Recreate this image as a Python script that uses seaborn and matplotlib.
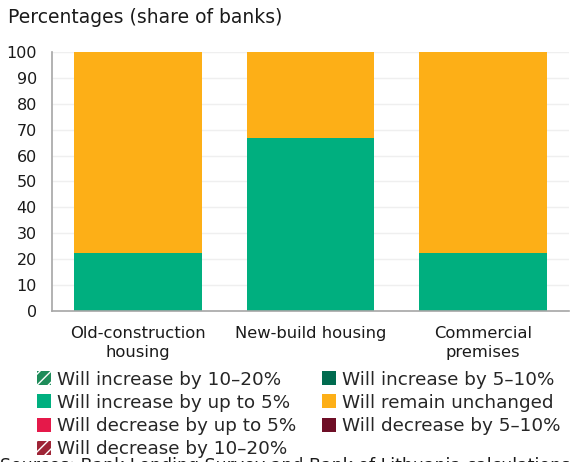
import matplotlib
matplotlib.use("Agg")
import matplotlib.pyplot as plt
from matplotlib.patches import Patch
import seaborn as sns
import numpy as np

categories = ["Old-construction\nhousing", "New-build housing", "Commercial\npremises"]

series_names = [
    "Will increase by 10–20%",
    "Will increase by 5–10%",
    "Will increase by up to 5%",
    "Will remain unchanged",
    "Will decrease by up to 5%",
    "Will decrease by 5–10%",
    "Will decrease by 10–20%",
]
inc_10_20 = [0.0, 0.0, 0.0]
inc_5_10 = [0.0, 0.0, 0.0]
inc_up_5 = [22.2, 66.7, 22.2]
unchanged = [77.8, 33.3, 77.8]
dec_up_5 = [0.0, 0.0, 0.0]
dec_5_10 = [0.0, 0.0, 0.0]
dec_10_20 = [0.0, 0.0, 0.0]
series_values = [inc_10_20, inc_5_10, inc_up_5, unchanged, dec_up_5, dec_5_10, dec_10_20]

colors = ["#1E8C5A", "#006B4F", "#00AF7F", "#FDAF17", "#E5194A", "#6E0E26", "#9E2436"]
hatches = ["///", None, None, None, None, None, "///"]

sns.set_theme(style="white")
plt.rcParams["font.family"] = ["DejaVu Sans"]

fig = plt.figure(figsize=(5.73, 4.62), dpi=100)
ax = fig.add_axes([0.0908, 0.327, 0.902, 0.5606])

bottom = np.zeros(len(categories))
for name, vals, col in zip(series_names, series_values, colors):
    sns.barplot(x=categories, y=vals, bottom=bottom, color=col, width=0.742,
                ax=ax, linewidth=0, saturation=1)
    bottom = bottom + np.array(vals)

ax.set_xlim(-0.5, 2.5)
ax.set_ylim(0, 100)
ax.set_yticks(range(0, 101, 10))
ax.yaxis.grid(True, color="#EFEFEF", linewidth=1)
ax.set_axisbelow(True)
for s in ["top", "right"]:
    ax.spines[s].set_visible(False)
for s in ["left", "bottom"]:
    ax.spines[s].set_color("#A6A6A6")
    ax.spines[s].set_linewidth(1.2)
ax.tick_params(axis="both", length=0, labelsize=11.5, colors="#1a1a1a")
ax.tick_params(axis="y", pad=11)
ax.tick_params(axis="x", pad=11, labelsize=11.8)
for t in ax.get_xticklabels():
    t.set_linespacing(1.3)
ax.set_xlabel("")
ax.set_ylabel("")

fig.text(0.014, 0.962, "Percentages (share of banks)", fontsize=13.5, va="center",
         ha="left", color="#1a1a1a")

handles = []
for name, col, h in zip(series_names, colors, hatches):
    if h:
        handles.append(Patch(facecolor=col, edgecolor="white", hatch=h, linewidth=0, label=name))
    else:
        handles.append(Patch(facecolor=col, edgecolor=col, linewidth=0, label=name))
order = [0, 2, 4, 6, 1, 3, 5]
leg = fig.legend([handles[i] for i in order], [series_names[i] for i in order],
                 ncol=2, loc="upper left", bbox_to_anchor=(0.064, 0.198),
                 frameon=False, fontsize=13.2, handlelength=0.8, handleheight=0.8,
                 handletextpad=0.3, columnspacing=1.4, labelspacing=0.29,
                 borderaxespad=0, borderpad=0)

fig.text(0.0, -0.008, "Sources: Bank Lending Survey and Bank of Lithuania calculations.",
         fontsize=12.5, va="center", ha="left", color="#1a1a1a")

fig.savefig("out.png", dpi=100)
